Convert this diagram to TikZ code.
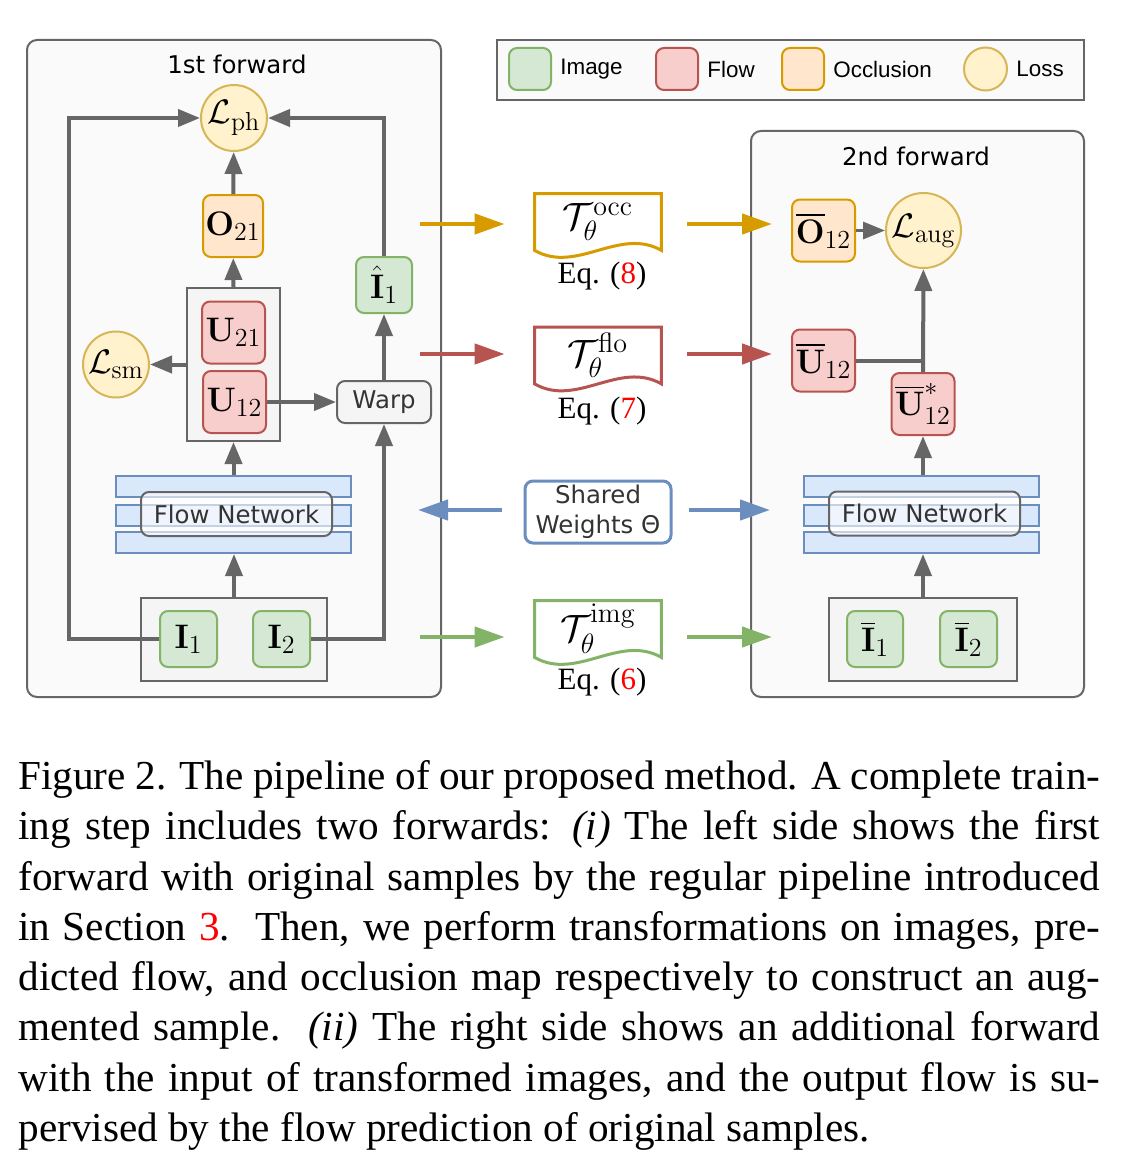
\documentclass[tikz,border=0pt]{standalone}
\usepackage{fix-cm}
\usepackage[no-math]{fontspec}
\setmainfont{Liberation Serif}
\newfontfamily\dvsans{DejaVu Sans}
\newfontfamily\lsans{Liberation Sans}
\usepackage{amsmath,amssymb}
\usepackage{xcolor}
\usetikzlibrary{arrows.meta,positioning,calc}
\definecolor{imgfill}{HTML}{D5E8D4}
\definecolor{imgline}{HTML}{82B366}
\definecolor{flofill}{HTML}{F8CECC}
\definecolor{floline}{HTML}{B85450}
\definecolor{occfill}{HTML}{FFE6CC}
\definecolor{occline}{HTML}{D79B00}
\definecolor{lossfill}{HTML}{FFF2CC}
\definecolor{lossline}{HTML}{D6B656}
\definecolor{netfill}{HTML}{DAE8FC}
\definecolor{netline}{HTML}{6C8EBF}
\definecolor{grpfill}{HTML}{F5F5F5}
\definecolor{panelfill}{HTML}{FAFAFA}
\definecolor{edge}{HTML}{666666}
\DeclareMathSizes{17}{17}{13}{10}
\DeclareMathSizes{19}{19}{14}{10}
\newcommand{\sanssz}{\dvsans\fontsize{12.2}{15}\selectfont}
\newcommand{\mathsz}{\fontsize{17}{20}\selectfont}
\newcommand{\tsz}{\fontsize{19}{22}\selectfont}
\newcommand{\eqsz}{\fontsize{15.5}{18}\selectfont}
\newcommand{\legsz}{\lsans\fontsize{11.2}{13}\selectfont}
\newcommand{\capsz}{\fontsize{20.6}{25.15}\selectfont}
\newcommand{\capline}[1]{\makebox[541pt][s]{#1}}
\newcommand{\docshape}[2]{%
  \draw[#2, line width=1.5pt] (#1.north west) -- (#1.north east) -- (#1.south east)
    .. controls ($(#1.south east)+(-42,-24)$) and ($(#1.south west)+(42,24)$) .. (#1.south west) -- cycle;}

\begin{document}
\begin{tikzpicture}[x=0.5pt, y=-0.5pt,
  panel/.style={draw=edge, fill=panelfill, rounded corners=5pt, line width=1pt, inner sep=0pt},
  grp/.style={draw=edge, fill=grpfill, line width=1pt, inner sep=0pt},
  var/.style={draw=#1line, fill=#1fill, rounded corners=4pt, line width=1pt, inner sep=0pt, minimum width=31.5pt, minimum height=31pt, font=\mathsz},
  loss/.style={circle, draw=lossline, fill=lossfill, line width=1pt, inner sep=0pt, minimum size=33pt, font=\mathsz},
  bar/.style={draw=netline, fill=netfill, line width=1pt, inner sep=0pt, minimum width=117.5pt, minimum height=10.5pt},
  netlbl/.style={draw=edge, fill=white, fill opacity=0.6, text opacity=1, rounded corners=4pt, line width=1pt, inner sep=0pt, minimum width=95.5pt, minimum height=22pt, font=\sanssz, text=black!80},
  ttl/.style={font=\sanssz, inner sep=0pt},
  tbox/.style={inner sep=0pt, minimum width=63pt, minimum height=28pt, font=\tsz},
  eqlbl/.style={inner sep=0pt, font=\eqsz},
  leg/.style={inner sep=0pt, font=\legsz, right=4pt of #1},
  garr/.style={-{Triangle[length=11pt,width=8.5pt]}, edge, line width=2pt},
  gline/.style={edge, line width=2pt},
  carr/.style={-{Triangle[length=15pt,width=10pt]}, #1, line width=2.2pt},
  capt/.style={inner sep=0pt, align=left, font=\capsz}]
\fill[white] (0,0) rectangle (1130,1156);
\useasboundingbox (0,0) rectangle (1130,1156);
% panels and legend
\node[panel, minimum width=207pt, minimum height=328.5pt] (fwd1) at (234,368.5) {};
\node[ttl] (ttl1) at (237,64) {1st forward};
\node[panel, minimum width=166.5pt, minimum height=283pt] (fwd2) at (917.5,414) {};
\node[ttl] (ttl2) at (916,156) {2nd forward};
\node[draw=edge, fill=panelfill, line width=1pt, minimum width=293.5pt, minimum height=30pt] (legend) at (790.5,70) {};
\node[var=img, minimum width=21pt, minimum height=21pt] (legimg) at (530,69) {};
\node[leg=legimg] {Image};
\node[var=flo, minimum width=21pt, minimum height=21pt] (legflo) at (677,69) {};
\node[leg=legflo] {Flow};
\node[var=occ, minimum width=21pt, minimum height=21pt] (legocc) at (803,69) {};
\node[leg=legocc] {Occlusion};
\node[loss, minimum size=21.5pt] (legloss) at (985.5,69) {};
\node[leg=legloss] {Loss};
% 1st forward
\node[loss] (lph) at (234,118) {$\mathcal{L}_{\mathrm{ph}}$};
\node[var=occ, minimum width=30pt] (o21) at (233,226) {$\mathbf{O}_{21}$};
\node[grp, minimum width=46.5pt, minimum height=76.5pt] (ugrp) at (233.5,364.5) {};
\node[var=flo] (u21) at (233.5,332.5) {$\mathbf{U}_{21}$};
\node[var=flo] (u12) at (234.5,402) {$\mathbf{U}_{12}$};
\node[loss] (lsm) at (116,364.5) {$\mathcal{L}_{\mathrm{sm}}$};
\node[grp, rounded corners=4pt, minimum width=47pt, minimum height=21pt, font=\sanssz, text=black!80] (warp) at (384,402) {Warp};
\node[var=img, minimum width=28pt, minimum height=28pt] (i1hat) at (384,285) {$\hat{\mathbf{I}}_1$};
\node[bar] (net1a) at (233.5,486.5) {};
\node[bar] (net1b) at (233.5,515.5) {};
\node[bar] (net1c) at (233.5,542.5) {};
\node[netlbl] (net1) at (236.5,514) {Flow Network};
\node[grp, minimum width=93pt, minimum height=41.5pt] (igrp) at (234,639.5) {};
\node[var=img, minimum width=28.5pt, minimum height=28pt] (i1) at (188.5,639) {$\mathbf{I}_1$};
\node[var=img, minimum width=28.5pt, minimum height=28pt] (i2) at (281.5,639) {$\mathbf{I}_2$};
\coordinate (lbend) at (69,639);
\draw[garr] (o21) -- (lph);
\draw[garr] (ugrp.north) -- (o21);
\draw[garr] (ugrp) -- (lsm);
\draw[garr] (u12) -- (warp);
\draw[garr] (warp) -- (i1hat);
\draw[garr] (i1hat) |- (lph);
\draw[garr] (i1.west) -- (lbend) |- (lph);
\draw[garr] (i2) -| (warp);
\draw[garr] (igrp.north) -- (igrp.north |- net1c.south);
\draw[garr] (net1a.north) -- (net1a.north |- ugrp.south);
% 2nd forward
\node[var=occ] (o12bar) at (823.5,230.5) {$\overline{\mathbf{O}}_{12}$};
\node[loss, minimum size=37.5pt] (laug) at (923.5,230.5) {$\mathcal{L}_{\mathrm{aug}}$};
\node[var=flo] (u12bar) at (823.5,360.5) {$\overline{\mathbf{U}}_{12}$};
\node[var=flo] (u12star) at (923,404) {$\overline{\mathbf{U}}^{*}_{12}$};
\node[bar] (net2a) at (921.5,486.5) {};
\node[bar] (net2b) at (921.5,515.5) {};
\node[bar] (net2c) at (921.5,542.5) {};
\node[netlbl] (net2) at (924.5,513.5) {Flow Network};
\node[grp, minimum width=94pt, minimum height=41.5pt] (ibgrp) at (923,639.5) {};
\node[var=img, minimum width=28pt, minimum height=28pt] (ib1) at (875,639) {$\overline{\mathbf{I}}_1$};
\node[var=img, minimum width=28.5pt, minimum height=28pt] (ib2) at (968.5,639) {$\overline{\mathbf{I}}_2$};
\draw[garr, line width=1.6pt] (o12bar) -- (laug);
\draw[garr] (u12star) -- (laug);
\draw[gline] (u12bar.east) -- (u12bar.east -| u12star);
\draw[garr] (net2a.north -| u12star) -- (u12star);
\draw[garr] (ibgrp.north) -- (ibgrp.north |- net2c.south);
% transformations
\node[tbox] (tocc) at (598,222) {$\mathcal{T}_{\theta}^{\mathrm{occ}}$};
\docshape{tocc}{occline}
\node[eqlbl] (eq8) at (602,276) {Eq. (\textcolor{red}{8})};
\node[tbox] (tflo) at (598,355.5) {$\mathcal{T}_{\theta}^{\mathrm{flo}}$};
\docshape{tflo}{floline}
\node[eqlbl] (eq7) at (602,411) {Eq. (\textcolor{red}{7})};
\node[tbox] (timg) at (598,629) {$\mathcal{T}_{\theta}^{\mathrm{img}}$};
\docshape{timg}{imgline}
\node[eqlbl] (eq6) at (602,682) {Eq. (\textcolor{red}{6})};
\node[draw=netline, fill=white, rounded corners=4pt, line width=1.5pt, inner sep=0pt, minimum width=73pt, minimum height=31pt, align=center, font=\sanssz, text=black!80] (shw) at (598,512) {Shared\\Weights Θ};
\coordinate (occL) at (420,224);
\coordinate (occR) at (772,224);
\coordinate (floL) at (420,354);
\coordinate (floR) at (772,354);
\coordinate (shwL) at (418,510);
\coordinate (shwR) at (770,510);
\coordinate (imgL) at (420,637);
\coordinate (imgR) at (772,637);
\draw[carr=occline, shorten >=15pt] (occL) -- (occL -| tocc.west);
\draw[carr=occline, shorten <=13pt] (occL -| tocc.east) -- (occR);
\draw[carr=floline, shorten >=15pt] (floL) -- (floL -| tflo.west);
\draw[carr=floline, shorten <=13pt] (floL -| tflo.east) -- (floR);
\draw[carr=netline, shorten <=11pt] (shwL -| shw.west) -- (shwL);
\draw[carr=netline, shorten <=8pt] (shwR -| shw.east) -- (shwR);
\draw[carr=imgline, shorten >=15pt] (imgL) -- (imgL -| timg.west);
\draw[carr=imgline, shorten <=13pt] (imgL -| timg.east) -- (imgR);
% caption
\node[capt, anchor=north west] (cap) at (18,760) {%
\capline{Figure 2. The pipeline of our proposed method. A complete train-}\\
\capline{ing step includes two forwards: \textit{(i)} The left side shows the first}\\
\capline{forward with original samples by the regular pipeline introduced}\\
\capline{in Section \textcolor{red}{3}.\ \ Then, we perform transformations on images, pre-}\\
\capline{dicted flow, and occlusion map respectively to construct an aug-}\\
\capline{mented sample.\ \ \textit{(ii)} The right side shows an additional forward}\\
\capline{with the input of transformed images, and the output flow is su-}\\
pervised by the flow prediction of original samples.};
\end{tikzpicture}
\end{document}
